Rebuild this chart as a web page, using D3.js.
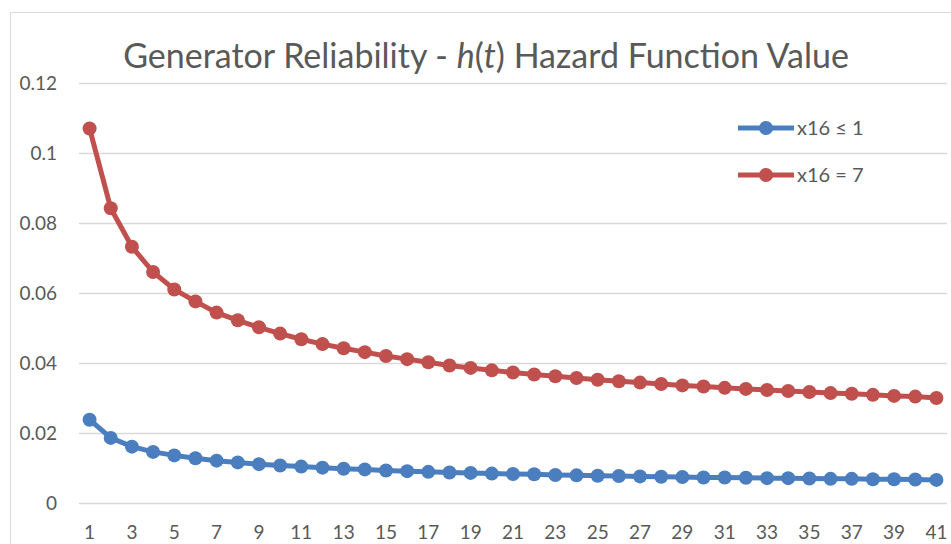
<!DOCTYPE html>
<html>
<head>
<meta charset="utf-8">
<script src="https://cdn.jsdelivr.net/npm/d3@7"></script>
<style>
  body { margin: 0; background: #fff; }
  text { font-family: Lato, "Open Sans", sans-serif; fill: #595959; }
</style>
</head>
<body>
<svg id="chart" width="951" height="544"></svg>
<script>
var periods = d3.range(1, 42); // t = 1..41
var yTicks = [0, 0.02, 0.04, 0.06, 0.08, 0.1, 0.12];
var seriesNames = ["x16 \u2264 1", "x16 = 7"];
var lowValues = [0.0238, 0.0186, 0.0161, 0.0146, 0.0136, 0.0128, 0.0121, 0.0116, 0.0111, 0.0107,
  0.0104, 0.0101, 0.0098, 0.0096, 0.0093, 0.0091, 0.0089, 0.0087, 0.0086, 0.0084,
  0.0083, 0.0082, 0.0080, 0.0079, 0.0078, 0.0077, 0.0076, 0.0075, 0.0074, 0.0073,
  0.0073, 0.0072, 0.0071, 0.0071, 0.0070, 0.0069, 0.0069, 0.0068, 0.0068, 0.0067, 0.0066];
var highValues = [0.107, 0.0842, 0.0732, 0.0660, 0.0610, 0.0576, 0.0544, 0.0522, 0.0502, 0.0484,
  0.0468, 0.0454, 0.0442, 0.0431, 0.0420, 0.0411, 0.0402, 0.0393, 0.0386, 0.0379,
  0.0373, 0.0367, 0.0362, 0.0357, 0.0352, 0.0348, 0.0344, 0.0340, 0.0336, 0.0333,
  0.0329, 0.0326, 0.0323, 0.0320, 0.0317, 0.0314, 0.0312, 0.0309, 0.0306, 0.0304, 0.0300];
var colors = ["#4a7ebf", "#c0504d"];

var svg = d3.select("#chart");
var plotLeft = 79, plotRight = 947, plotTop = 83, plotBottom = 503;

var x = d3.scaleBand().domain(periods).range([plotLeft, plotRight]);
var y = d3.scaleLinear().domain([0, 0.12]).range([plotBottom, plotTop]);

// chart border
svg.append("rect")
    .attr("x", 10.5).attr("y", 12.5)
    .attr("width", 1000).attr("height", 600)
    .attr("fill", "none").attr("stroke", "#d9d9d9");

// title, h(t) in italic
var title = svg.append("text")
    .attr("x", 486).attr("y", 68)
    .attr("text-anchor", "middle")
    .style("font-size", "34px");
title.append("tspan").text("Generator Reliability - ");
title.append("tspan").style("font-style", "italic").text("h");
title.append("tspan").text("(");
title.append("tspan").style("font-style", "italic").text("t");
title.append("tspan").text(") Hazard Function Value");

// gridlines + y labels
var yAxis = svg.append("g")
    .attr("transform", "translate(" + plotLeft + ",0)")
    .call(d3.axisLeft(y).tickValues(yTicks).tickSize(-(plotRight - plotLeft)).tickPadding(22)
      .tickFormat(function(d) { return d3.format("~g")(d); }));
yAxis.select(".domain").remove();
yAxis.selectAll("line").attr("stroke", "#d9d9d9").attr("stroke-width", 1.5);
yAxis.selectAll("text").style("font-size", "19px").attr("fill", "#595959");

// x labels, every other category
var xAxis = svg.append("g")
    .attr("transform", "translate(0," + plotBottom + ")")
    .call(d3.axisBottom(x).tickValues(periods.filter(function(d) { return d % 2 === 1; }))
      .tickSize(0).tickPadding(23));
xAxis.select(".domain").remove();
xAxis.selectAll("text").style("font-size", "19px").attr("fill", "#595959");

var line = d3.line()
    .x(function(d, i) { return x(periods[i]) + x.bandwidth() / 2; })
    .y(function(d) { return y(d); });

[lowValues, highValues].forEach(function(vals, k) {
  svg.append("path")
      .datum(vals)
      .attr("d", line)
      .attr("fill", "none")
      .attr("stroke", colors[k])
      .attr("stroke-width", 5);
  svg.append("g").selectAll("circle")
      .data(vals)
    .enter().append("circle")
      .attr("cx", function(d, i) { return x(periods[i]) + x.bandwidth() / 2; })
      .attr("cy", function(d) { return y(d); })
      .attr("r", 7)
      .attr("fill", colors[k]);
});

// legend
var legend = svg.append("g").selectAll("g")
    .data(seriesNames)
  .enter().append("g")
    .attr("transform", function(d, i) { return "translate(738," + (128 + i * 47) + ")"; });
legend.append("line")
    .attr("x1", 0).attr("x2", 56)
    .attr("stroke", function(d, i) { return colors[i]; })
    .attr("stroke-width", 5);
legend.append("circle")
    .attr("cx", 28).attr("r", 7)
    .attr("fill", function(d, i) { return colors[i]; });
legend.append("text")
    .attr("x", 59).attr("dy", "0.35em")
    .style("font-size", "20px")
    .text(function(d) { return d; });
</script>
</body>
</html>
